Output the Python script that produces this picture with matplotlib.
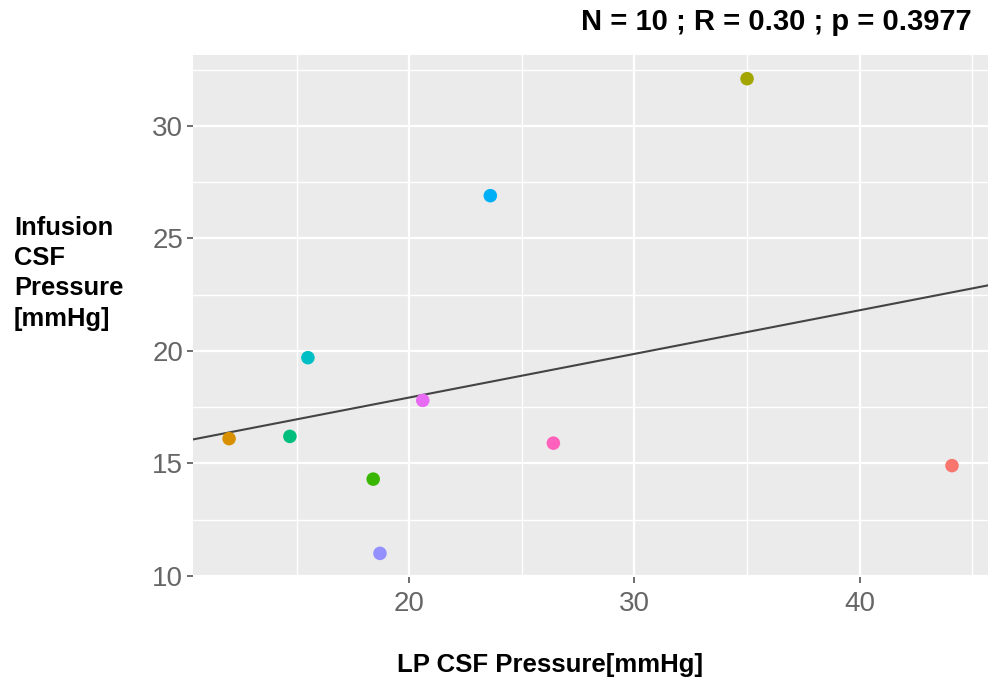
import numpy as np
import matplotlib
matplotlib.use("Agg")
import matplotlib.pyplot as plt
from matplotlib.ticker import MultipleLocator

plt.rcParams['font.family'] = ['Liberation Sans', 'DejaVu Sans']

# data
lp_pressure = [12.0, 14.7, 15.5, 18.4, 18.7, 20.6, 23.6, 26.4, 35.0, 44.1]
infusion_pressure = [16.1, 16.2, 19.7, 14.3, 11.0, 17.8, 26.9, 15.9, 32.1, 14.9]
point_colors = ['#D89000', '#00BF7D', '#00BFC4', '#39B600', '#9590FF',
                '#E76BF3', '#00B0F6', '#FF62BC', '#A3A500', '#F8766D']
title_text = "N = 10 ; R = 0.30 ; p = 0.3977"

fig = plt.figure(figsize=(9.9, 6.8), dpi=100)
ax = fig.add_axes([0.195, 0.1515, 0.803, 0.7675])
ax.set_facecolor('#EBEBEB')

ax.set_xlim(10.4, 45.7)
ax.set_ylim(9.95, 33.15)
ax.xaxis.set_major_locator(MultipleLocator(10))
ax.xaxis.set_minor_locator(MultipleLocator(5))
ax.yaxis.set_major_locator(MultipleLocator(5))
ax.yaxis.set_minor_locator(MultipleLocator(2.5))
ax.grid(which='major', color='white', linewidth=1.6)
ax.grid(which='minor', color='white', linewidth=1.0)
ax.set_axisbelow(True)
for s in ax.spines.values():
    s.set_visible(False)

ax.tick_params(which='major', length=4, width=1.2, color='#555555',
               labelsize=20, labelcolor='#666666', pad=3)
ax.tick_params(axis='x', which='major', pad=6)
ax.tick_params(which='minor', length=0)

# fitted line across the full panel
slope, intercept = np.polyfit(lp_pressure, infusion_pressure, 1)
xs = np.array(ax.get_xlim())
ax.plot(xs, slope * xs + intercept, color='#444444', linewidth=1.5, zorder=2)

ax.scatter(lp_pressure, infusion_pressure, c=point_colors, s=95, zorder=3,
           edgecolors='none')

fig.text(0.981, 0.967, title_text, ha='right', va='center',
         fontsize=21, fontweight='bold')
fig.text(0.014, 0.598, "Infusion\nCSF\nPressure\n[mmHg]", ha='left',
         va='center', fontsize=18.4, fontweight='bold', linespacing=1.33)
fig.text(0.556, 0.022, "LP CSF Pressure[mmHg]", ha='center', va='center',
         fontsize=18.5, fontweight='bold')

fig.savefig("out.png", dpi=100)
